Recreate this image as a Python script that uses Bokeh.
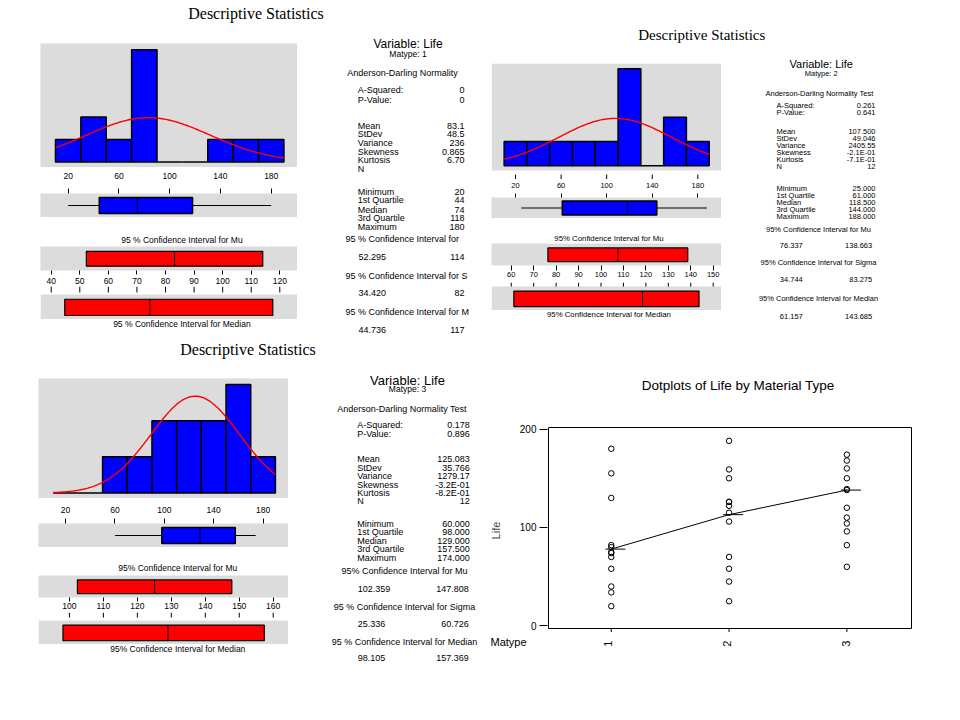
import math
import numpy as np
from bokeh.plotting import figure
from bokeh.layouts import row, column
from bokeh.models import Range1d, FixedTicker, ColumnDataSource, Spacer
from bokeh.core.properties import value
from bokeh.embed import file_html
from bokeh.resources import INLINE

# ------------------------------------------------------------------ data
life_mat1 = [130, 155, 74, 180, 34, 40, 80, 75, 20, 70, 82, 58]
life_mat2 = [150, 188, 159, 126, 126, 122, 106, 115, 25, 70, 58, 45]
life_mat3 = [138, 110, 168, 160, 174, 120, 150, 139, 96, 104, 82, 60]
matypes = [1, 2, 3]
connect_life = [78, 113, 138]

hist_mids = [20, 40, 60, 80, 100, 120, 140, 160, 180]
hist_bin_w = 20
hist_counts1 = [1, 2, 1, 5, 0, 0, 1, 1, 1]
hist_counts2 = [1, 1, 1, 1, 1, 4, 0, 2, 1]
hist_counts3 = [0, 0, 1, 1, 2, 2, 2, 3, 1]
hist_ticks = [20, 60, 100, 140, 180]

mean1, sd1 = 83.167, 48.59
mean2, sd2 = 107.5, 49.046
mean3, sd3 = 125.083, 35.766

box1 = [20, 44.5, 74.5, 118.0, 180]      # min, Q1, median, Q3, max
box2 = [25, 61.0, 118.5, 144.0, 188]
box3 = [60, 98.0, 129.0, 157.5, 174]

ci_mu1 = [52.295, 83.167, 114.038]
ci_mu2 = [76.337, 107.5, 138.663]
ci_mu3 = [102.359, 125.083, 147.808]
ci_med1 = [44.736, 74.5, 117.55]
ci_med2 = [61.157, 118.5, 143.685]
ci_med3 = [98.105, 129.0, 157.369]

ci_ticks1 = [40, 50, 60, 70, 80, 90, 100, 110, 120]
ci_ticks2 = [60, 70, 80, 90, 100, 110, 120, 130, 140, 150]
ci_ticks3 = [100, 110, 120, 130, 140, 150, 160]

stat_labels = ["A-Squared:", "P-Value:", "Mean", "StDev", "Variance", "Skewness",
               "Kurtosis", "N", "Minimum", "1st Quartile", "Median", "3rd Quartile", "Maximum"]
stat_vals1 = ["0", "0", "83.1", "48.5", "236", "0.865", "6.70", "", "20", "44", "74", "118", "180"]
stat_vals2 = ["0.261", "0.641", "107.500", "49.046", "2405.55", "-2.1E-01", "-7.1E-01", "12",
              "25.000", "61.000", "118.500", "144.000", "188.000"]
stat_vals3 = ["0.178", "0.896", "125.083", "35.766", "1279.17", "-3.2E-01", "-8.2E-01", "12",
              "60.000", "98.000", "129.000", "157.500", "174.000"]
ad_head1 = "Anderson-Darling Normality"
ad_head2 = "Anderson-Darling Normality Test"
ad_head3 = "Anderson-Darling Normality Test"
ci_heads1 = ["95 % Confidence Interval for", "95 % Confidence Interval for S", "95 % Confidence Interval for M"]
ci_heads2 = ["95% Confidence Interval for Mu", "95% Confidence Interval for Sigma", "95% Confidence Interval for Median"]
ci_heads3 = ["95% Confidence Interval for Mu", "95 % Confidence Interval for Sigma", "95 % Confidence Interval for Median"]
ci_vals1 = [["52.295", "114"], ["34.420", "82"], ["44.736", "117"]]
ci_vals2 = [["76.337", "138.663"], ["34.744", "83.275"], ["61.157", "143.685"]]
ci_vals3 = [["102.359", "147.808"], ["25.336", "60.726"], ["98.105", "157.369"]]
mu_labels = ["95 % Confidence Interval for Mu", "95% Confidence Interval for Mu", "95% Confidence Interval for Mu"]
med_labels = ["95 % Confidence Interval for Median", "95% Confidence Interval for Median", "95% Confidence Interval for Median"]

# ------------------------------------------------------------------ styles
GRAY = "#DCDCDC"
BLUE = "#0000FF"
RED = "#FF0000"
SANS = "Liberation Sans"
SERIF = "Liberation Serif"


def new_fig(w, h, xr, yr, left=0, right=0, top=0, bottom=0, bg="white",
            xloc=None, yloc=None, outline=None):
    p = figure(width=int(round(w)), height=int(round(h)), x_range=xr, y_range=yr,
               toolbar_location=None, output_backend="svg",
               x_axis_location=xloc, y_axis_location=yloc,
               min_border_left=int(left), min_border_right=int(right),
               min_border_top=int(top), min_border_bottom=int(bottom),
               background_fill_color=bg, border_fill_color="white",
               outline_line_color=outline)
    p.grid.visible = False
    return p


def text_panel(x0, y0, x1, y1):
    w, h = x1 - x0, y1 - y0
    p = new_fig(w, h, Range1d(0, w), Range1d(h, 0))
    return (p, (x0, y0))


def put(pp, items, size, align="left", font=SANS, baseline="middle", angle=0.0):
    p, (ox, oy) = pp
    items = [i for i in items if i[2] != ""]
    if not items:
        return
    src = ColumnDataSource(dict(x=[i[0] - ox for i in items],
                                y=[i[1] - oy for i in items],
                                t=[i[2] for i in items]))
    p.text(x="x", y="y", text="t", source=src, text_font=value(font),
           text_font_size=size, text_align=align, text_baseline=baseline,
           text_color="black", angle=angle)


def style_axis(ax, ticks, tick_out, standoff=2, size="8px", tick_in=0):
    ax.ticker = FixedTicker(ticks=ticks)
    ax.axis_line_color = None
    ax.major_tick_line_color = "black"
    ax.major_tick_out = int(tick_out)
    ax.major_tick_in = int(tick_in)
    ax.minor_tick_line_color = None
    ax.major_label_standoff = int(standoff)
    ax.major_label_text_font = SANS
    ax.major_label_text_font_size = size
    ax.major_label_text_color = "black"


def desc_panel(L, D, S):
    x0 = L["x0"]
    fx0, fx1 = L["fx"]
    lw = fx1 - x0
    ml = fx0 - x0

    # title
    t = text_panel(x0, L["title_y"][0], x0 + L["w"], L["title_y"][1])
    put(t, [(L["title_x"], L["title_cy"], "Descriptive Statistics")],
        L["title_size"], "center", SERIF, "middle")

    # histogram
    y0, ft, fb, y1 = L["hist"]
    counts = D["counts"]
    cmax = max(counts)
    lo, hi = -0.05 * cmax, 1.055 * cmax
    hxr = L["hist_xr"]
    if L["hist_ticks"]:
        ext = y1 - fb
        upp = (hi - lo) / (fb - ft)
        lo2 = lo - ext * upp
        hist = new_fig(lw, y1 - y0, Range1d(*hxr), Range1d(lo2, hi), left=ml,
                       top=ft - y0, bottom=0, bg="white")
        hist.quad(left=[hxr[0]], right=[hxr[1]], bottom=[lo], top=[hi],
                  fill_color=GRAY, line_color=None)
        nt = len(hist_ticks)
        hist.segment(x0=hist_ticks, y0=[lo - 4 * upp] * nt, x1=hist_ticks, y1=[lo2] * nt,
                     line_color="black", line_width=1)
    else:
        hist = new_fig(lw, y1 - y0, Range1d(*hxr), Range1d(lo, hi), left=ml,
                       top=ft - y0, bottom=y1 - fb, bg=GRAY)
    half = hist_bin_w / 2
    hist.quad(left=[m - half for m in hist_mids], right=[m + half for m in hist_mids],
              bottom=[0] * len(counts), top=counts, fill_color=BLUE,
              line_color="black", line_width=1.5)
    n = len(D["data"])
    xs = np.linspace(hist_mids[0] - half, hist_mids[-1] + half, 181)
    ys = n * hist_bin_w / (D["sd"] * math.sqrt(2 * math.pi)) * np.exp(-0.5 * ((xs - D["mean"]) / D["sd"]) ** 2)
    hist.line(xs, ys, line_color=RED, line_width=1.4)

    # boxplot
    y0, ft, fb, y1 = L["box"]
    box = new_fig(lw, y1 - y0, Range1d(*hxr), Range1d(0, 1), left=ml,
                  top=ft - y0, bottom=y1 - fb, bg=GRAY, xloc="above")
    style_axis(box.xaxis[0], hist_ticks, L["box_tick"], L["box_so"], L["tick_size"])
    mn, q1, md, q3, mx = D["box"]
    box.segment(x0=[mn, q3], y0=[0.5, 0.5], x1=[q1, mx], y1=[0.5, 0.5],
                line_color="black", line_width=1)
    box.quad(left=[q1], right=[q3], bottom=[0.17], top=[0.83], fill_color=BLUE,
             line_color="black", line_width=1.5)
    box.segment(x0=[md], y0=[0.17], x1=[md], y1=[0.83], line_color="black", line_width=1)

    # mu label
    y0, y1, ty = L["mulab"]
    ml_p = text_panel(x0, y0, fx1, y1)
    put(ml_p, [(L["lab_x"], ty, D["mu_label"])], L["lab_size"], "center")

    # mu CI
    y0, ft, fb, y1 = L["mu"]
    mu = new_fig(lw, y1 - y0, Range1d(*L["ci_xr"]), Range1d(0, 1), left=ml,
                 top=ft - y0, bottom=y1 - fb, bg=GRAY, xloc="below")
    style_axis(mu.xaxis[0], D["ci_ticks"], L["mu_tick"], L["mu_so"], L["tick_size"])
    clo, c, chi = D["ci_mu"]
    mu.quad(left=[clo], right=[chi], bottom=[0.18], top=[0.8], fill_color=RED,
            line_color="black", line_width=1.2)
    mu.segment(x0=[c], y0=[0.18], x1=[c], y1=[0.8], line_color="black", line_width=1)

    # median CI (tick marks above the strip drawn through the same x scale)
    y0, ft, fb, y1 = L["med"]
    strip = fb - ft
    zone = ft - y0
    mhi = 1 + zone / strip
    cxr = L["ci_xr"]
    med = new_fig(lw, y1 - y0, Range1d(*cxr), Range1d(0, mhi), left=ml,
                  top=0, bottom=y1 - fb, bg="white")
    med.quad(left=[cxr[0]], right=[cxr[1]], bottom=[0], top=[1], fill_color=GRAY, line_color=None)
    tks = D["ci_ticks"]
    t0 = 1 + (zone - L["med_tick"]) / strip
    med.segment(x0=tks, y0=[t0] * len(tks), x1=tks, y1=[mhi] * len(tks),
                line_color="black", line_width=1)
    clo, c, chi = D["ci_med"]
    med.quad(left=[clo], right=[chi], bottom=[0.16], top=[0.81], fill_color=RED,
             line_color="black", line_width=1.2)
    med.segment(x0=[c], y0=[0.16], x1=[c], y1=[0.81], line_color="black", line_width=1)

    # median label
    y0, y1, ty = L["medlab"]
    md_p = text_panel(x0, y0, fx1, y1)
    put(md_p, [(L["lab_x"], ty, D["med_label"])], L["lab_size"], "center")

    # statistics text
    ry0 = L["hist"][0]
    ry1 = L["medlab"][1]
    st = text_panel(fx1, ry0, L["stats_x1"], ry1)
    ys = S["ys"]
    put(st, [(S["cx"], ys[0], "Variable: Life")], S["big"], "center")
    put(st, [(S["cx"], ys[1], "Matype: %d" % D["matype"])], S["small"], "center")
    put(st, [(S["ad_x"], ys[2], D["ad_head"])], S["row"], "left")
    put(st, [(S["lab_x"], ys[3 + i], lab) for i, lab in enumerate(stat_labels)], S["row"], "left")
    put(st, [(S["val_x"], ys[3 + i], v) for i, v in enumerate(D["vals"])], S["row"], "right")
    put(st, [(S["ci_x"], ys[16 + 2 * i], h) for i, h in enumerate(D["ci_heads"])], S["row"], S["ci_align"])
    put(st, [(S["civ_l"], ys[17 + 2 * i], v[0]) for i, v in enumerate(D["ci_vals"])], S["row"], "left")
    put(st, [(S["civ_r"], ys[17 + 2 * i], v[1]) for i, v in enumerate(D["ci_vals"])], S["row"], "right")

    left_sub = column(hist, box, ml_p[0], mu, med, md_p[0])
    parts = [left_sub, st[0]]
    gap = x0 + L["w"] - L["stats_x1"]
    if gap > 0:
        parts.append(Spacer(width=int(gap), height=int(ry1 - ry0)))
    return [t[0], row(*parts)]


# ------------------------------------------------------------------ layout configs (image px)
L1 = dict(x0=8, w=478, fx=(40, 297), stats_x1=471,
          title_y=(0, 35), title_x=255.5, title_cy=12.5, title_size="16px",
          hist=(35, 43, 167, 167), box=(167, 193, 217, 217), mulab=(217, 246, 239),
          mu=(246, 246, 271, 286), med=(286, 294, 319, 319), medlab=(319, 335, 323.3),
          lab_x=167, lab_size="8.5px", tick_size="8.5px",
          hist_xr=(-1.8, 200.7), ci_xr=(36.25, 126.2),
          box_tick=5, box_so=10, mu_tick=4, mu_so=3, med_tick=6, hist_ticks=False)
S1 = dict(cx=407.5, big="12px", small="8.5px", row="9px", ad_x=346.7, lab_x=357.3, val_x=464,
          ci_align="left", ci_x=345, civ_l=358, civ_r=464,
          ys=[43, 53, 72, 89, 99, 125, 133.5, 142.3, 151, 159.7, 168, 191, 199, 209, 217, 226,
              238, 256.5, 275.6, 292.7, 311, 329])

L2 = dict(x0=486, w=466, fx=(491, 721), stats_x1=952,
          title_y=(0, 52), title_x=683, title_cy=34, title_size="15px",
          hist=(52, 63, 170, 179), box=(179, 196, 218, 218), mulab=(218, 243, 238.3),
          mu=(243, 243, 265, 282), med=(282, 286, 310, 310), medlab=(310, 326, 313.5),
          lab_x=606, lab_size="7.8px", tick_size="7.5px",
          hist_xr=(-1.1, 200.8), ci_xr=(51.2, 153.7),
          box_tick=4, box_so=6, mu_tick=5, mu_so=1, med_tick=4, hist_ticks=True)
S2 = dict(cx=820.7, big="11px", small="7.5px", row="7.5px", ad_x=765, lab_x=776, val_x=875,
          ci_align="center", ci_x=818, civ_l=779.3, civ_r=871.7,
          ys=[63.3, 72.7, 92.7, 105, 112, 131, 138, 145, 152, 159, 166, 188, 195, 202, 209, 216,
              229, 245, 262, 279, 298, 316])

L3 = dict(x0=8, w=478, fx=(38, 288), stats_x1=486,
          title_y=(335, 368), title_x=247.5, title_cy=349, title_size="16px",
          hist=(368, 378, 498, 498), box=(498, 523, 547, 547), mulab=(547, 575, 567.3),
          mu=(575, 575, 597, 612), med=(612, 620, 644, 644), medlab=(644, 662, 648),
          lab_x=164, lab_size="8.5px", tick_size="8.5px",
          hist_xr=(-1.9, 200.6), ci_xr=(90.9, 164.5),
          box_tick=5, box_so=6, mu_tick=4, mu_so=1, med_tick=5, hist_ticks=False)
S3 = dict(cx=407, big="13px", small="8.5px", row="9px", ad_x=336.7, lab_x=356.7, val_x=469.3,
          ci_align="center", ci_x=404, civ_l=357.3, civ_r=468.3,
          ys=[379.5, 388.5, 408, 424, 433, 458.5, 467, 475.5, 484, 492.5, 500, 523, 531, 540,
              548, 557, 570, 588, 606, 623, 641, 657])

D1 = dict(matype=1, data=life_mat1, counts=hist_counts1, mean=mean1, sd=sd1, box=box1,
          ci_mu=ci_mu1, ci_med=ci_med1, ci_ticks=ci_ticks1, vals=stat_vals1, ad_head=ad_head1,
          ci_heads=ci_heads1, ci_vals=ci_vals1, mu_label=mu_labels[0], med_label=med_labels[0])
D2 = dict(matype=2, data=life_mat2, counts=hist_counts2, mean=mean2, sd=sd2, box=box2,
          ci_mu=ci_mu2, ci_med=ci_med2, ci_ticks=ci_ticks2, vals=stat_vals2, ad_head=ad_head2,
          ci_heads=ci_heads2, ci_vals=ci_vals2, mu_label=mu_labels[1], med_label=med_labels[1])
D3 = dict(matype=3, data=life_mat3, counts=hist_counts3, mean=mean3, sd=sd3, box=box3,
          ci_mu=ci_mu3, ci_med=ci_med3, ci_ticks=ci_ticks3, vals=stat_vals3, ad_head=ad_head3,
          ci_heads=ci_heads3, ci_vals=ci_vals3, mu_label=mu_labels[2], med_label=med_labels[2])

p1 = desc_panel(L1, D1, S1)
p3 = desc_panel(L3, D3, S3)
p2 = desc_panel(L2, D2, S2)

# ------------------------------------------------------------------ dotplot
dot_title = text_panel(486, 326, 952, 400)
put(dot_title, [(729.3, 385, "Dotplots of Life by Material Type")], "13.5px", "center")

box_x = (0.467, 3.549)          # plot box extent in data units
box_y = (-2.7, 201.6)
upx = (box_x[1] - box_x[0]) / 367
upy = (box_y[1] - box_y[0]) / 201
dot_xr = Range1d(box_x[0] - upx, box_x[1] + upx)
dot_yr = Range1d(box_y[0] - 6 * upy, box_y[1] + upy)
dp = new_fig(466, 234, dot_xr, dot_yr, left=57, right=40, top=26, bottom=0,
             xloc=None, yloc="left", outline=None)
dp.quad(left=[box_x[0]], right=[box_x[1]], bottom=[box_y[0]], top=[box_y[1]],
        fill_color=None, line_color="black", line_width=1)
dp.segment(x0=matypes, y0=[box_y[0]] * 3, x1=matypes, y1=[box_y[0] - 3.5 * upy] * 3,
           line_color="black", line_width=1)
dx, dy = [], []
for m, vals in zip(matypes, [life_mat1, life_mat2, life_mat3]):
    dx += [m] * len(vals)
    dy += vals
dp.scatter(dx, dy, marker="circle", size=5.5, fill_color=None, line_color="black", line_width=1)
dp.line(matypes, connect_life, line_color="black", line_width=1)
dp.segment(x0=[m - 0.05 for m in matypes], y0=connect_life, x1=[m + 0.12 for m in matypes],
           y1=connect_life, line_color="black", line_width=1)
ya = dp.yaxis[0]
style_axis(ya, [0, 100, 200], 8, 3, "10px")
ya.axis_label = "Life"
ya.axis_label_text_font = SANS
ya.axis_label_text_font_size = "11px"
ya.axis_label_text_font_style = "normal"
ya.axis_label_standoff = 15

# category labels row under the dotplot, on the same x range
xl = new_fig(409, 78, dot_xr, Range1d(78, 0), left=0, right=40, top=0, bottom=0)
xl.text(x=matypes, y=[9.3] * 3, text=[str(m) for m in matypes], angle=math.pi / 2,
        text_font=value(SANS), text_font_size="11px", text_align="center",
        text_baseline="middle", text_color="black")
mt = text_panel(486, 634, 543, 712)
put(mt, [(490, 641.7, "Matype")], "11px", "left")

leftcol = column(*p1, *p3)
rightcol = column(*p2, dot_title[0], dp, row(mt[0], xl))
root = row(Spacer(width=8, height=712), leftcol, rightcol)

open("out.html", "w").write(file_html(root, INLINE))
